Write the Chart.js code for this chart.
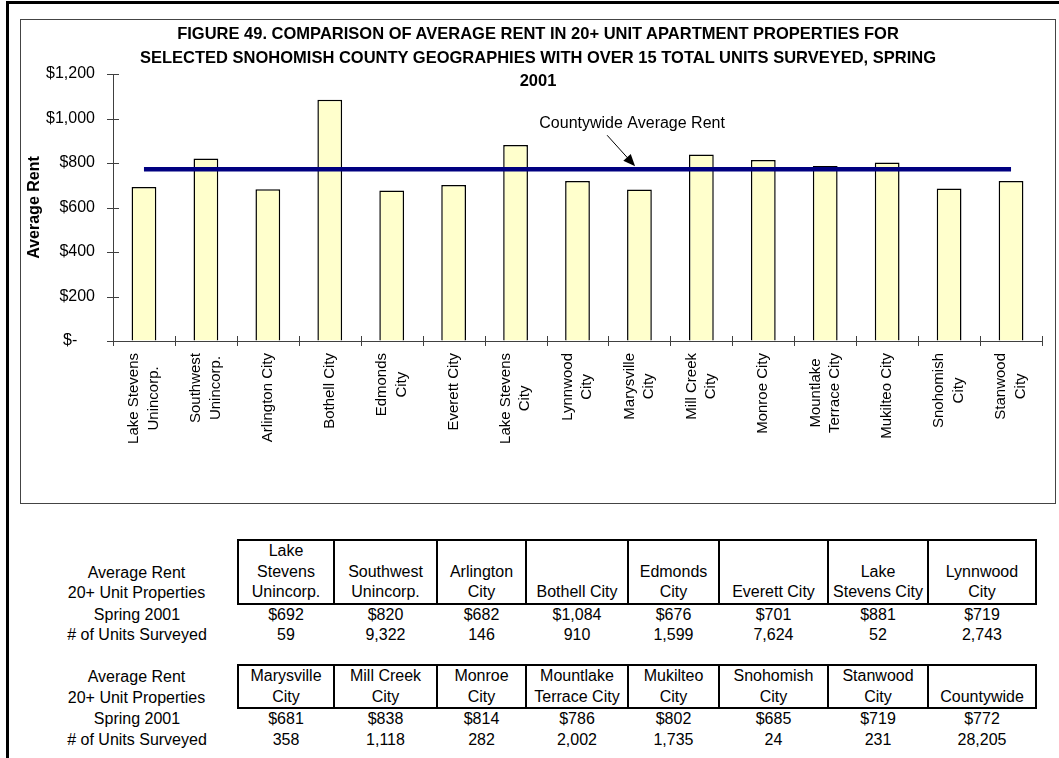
<!DOCTYPE html>
<html lang="en">
<head>
  <meta charset="UTF-8" />
  <title>Figure 49 – Average Rent, Snohomish County, Spring 2001</title>
  <script src="https://cdn.jsdelivr.net/npm/chart.js"></script>
  <style>
    body {
      margin: 0; padding: 0;
      background: #fff;
      font-family: Arial, "Liberation Sans", sans-serif;
      color: #000;
      width: 1059px; height: 758px;
      overflow: hidden;
      position: relative;
    }
    .frame {
      position: absolute;
      left: 6px; top: 1px;
      width: 1060px; height: 770px;
      border-top: 3px solid #000;
      border-left: 3px solid #000;
    }
    .chartBox {
      position: absolute;
      left: 20px; top: 19px;
      width: 1034px; height: 483px;
      border: 1px solid #444;
    }
    .title {
      position: absolute;
      left: 0; top: 2px;
      width: 1034px;
      text-align: center;
      font-weight: bold;
      font-size: 16.5px;
      line-height: 23.5px;
    }
    canvas { position: absolute; left: 0; top: 0; }
    table.data {
      position: absolute;
      left: 36px;
      border-collapse: collapse;
      table-layout: fixed;
      font-size: 16px;
      line-height: 20.5px;
    }
    table.data td {
      padding: 0;
      text-align: center;
      vertical-align: bottom;
      white-space: nowrap;
    }
    table.data tr.head td.name {
      border: 2px solid #000;
    }
  </style>
</head>
<body>
  <div class="frame"></div>
  <div class="chartBox">
    <canvas id="chartCanvas" width="1034" height="483"></canvas>
    <div class="title">
      FIGURE 49. COMPARISON OF AVERAGE RENT IN 20+ UNIT APARTMENT PROPERTIES FOR<br>
      SELECTED SNOHOMISH COUNTY GEOGRAPHIES WITH OVER 15 TOTAL UNITS SURVEYED, SPRING<br>
      2001
    </div>
  </div>
  <table class="data" id="table1" style="top:539px"></table>
  <table class="data" id="table2" style="top:664px"></table>

  <script>
    // etiquetas del eje x (dos lineas cuando el original las parte)
    const categories = [
      ["Lake Stevens", "Unincorp."], ["Southwest", "Unincorp."], "Arlington City", "Bothell City",
      ["Edmonds", "City"], "Everett City", ["Lake Stevens", "City"], ["Lynnwood", "City"],
      ["Marysville", "City"], ["Mill Creek", "City"], "Monroe City", ["Mountlake", "Terrace City"],
      "Mukilteo City", ["Snohomish", "City"], ["Stanwood", "City"]
    ];
    const rents = [692, 820, 682, 1084, 676, 701, 881, 719, 681, 838, 814, 786, 802, 685, 719];
    const unitsSurveyed = [59, 9322, 146, 910, 1599, 7624, 52, 2743, 358, 1118, 282, 2002, 1735, 24, 231];
    const countywideRent = 772;
    const countywideUnits = 28205;
    const yTicks = [0, 200, 400, 600, 800, 1000, 1200];

    // encabezados de las tablas de abajo
    const tableNames = [
      ["Lake", "Stevens", "Unincorp."], ["Southwest", "Unincorp."], ["Arlington", "City"], ["Bothell City"],
      ["Edmonds", "City"], ["Everett City"], ["Lake", "Stevens City"], ["Lynnwood", "City"],
      ["Marysville", "City"], ["Mill Creek", "City"], ["Monroe", "City"], ["Mountlake", "Terrace City"],
      ["Mukilteo", "City"], ["Snohomish", "City"], ["Stanwood", "City"], ["Countywide"]
    ];
    const rowLabels = ["Average Rent", "20+ Unit Properties", "Spring 2001", "# of Units Surveyed"];
    const colWidths = [202, 96, 103, 89, 102, 91, 109, 100, 108];

    const FONT = 'Arial, "Liberation Sans", sans-serif';

    const axisExtras = {
      id: "axisExtras",
      afterDraw(chart) {
        const ctx = chart.ctx;
        const x = chart.scales.x, y = chart.scales.y;
        ctx.save();
        // marcas que cruzan los ejes
        ctx.strokeStyle = "#404040";
        ctx.lineWidth = 1;
        ctx.beginPath();
        y.ticks.forEach((t, i) => {
          const py = Math.round(y.getPixelForTick(i)) + 0.5;
          ctx.moveTo(x.left - 6, py);
          ctx.lineTo(x.left + 6, py);
        });
        const half = (x.right - x.left) / categories.length / 2;
        for (let i = 0; i <= categories.length; i++) {
          const px = Math.round(x.getPixelForValue(i) - half) + 0.5;
          ctx.moveTo(px, y.bottom - 5);
          ctx.lineTo(px, y.bottom + 5);
        }
        ctx.stroke();

        // etiquetas verticales: bloque pegado al eje, lineas centradas entre si
        ctx.fillStyle = "#000";
        ctx.font = "15px " + FONT;
        ctx.textAlign = "center";
        ctx.textBaseline = "middle";
        categories.forEach((c, i) => {
          const lines = Array.isArray(c) ? c : [c];
          const w = Math.max(...lines.map(t => ctx.measureText(t).width));
          const cx = x.getPixelForValue(i);
          lines.forEach((txt, j) => {
            const px = cx + (j - (lines.length - 1) / 2) * 19.5;
            ctx.save();
            ctx.translate(px, y.bottom + 12 + w / 2);
            ctx.rotate(-Math.PI / 2);
            ctx.fillText(txt, 0, 0);
            ctx.restore();
          });
        });

        // flecha "Countywide Average Rent"
        const tipX = x.getPixelForValue(7.93);
        const tipY = y.getPixelForValue(countywideRent) - 3;
        const tailX = tipX - 28, tailY = tipY - 31;
        const ang = Math.atan2(tipY - tailY, tipX - tailX);
        ctx.strokeStyle = "#000";
        ctx.beginPath();
        ctx.moveTo(tailX, tailY);
        ctx.lineTo(tipX - 10 * Math.cos(ang), tipY - 10 * Math.sin(ang));
        ctx.stroke();
        ctx.beginPath();
        ctx.moveTo(tipX, tipY);
        ctx.lineTo(tipX - 12 * Math.cos(ang) + 5 * Math.sin(ang), tipY - 12 * Math.sin(ang) - 5 * Math.cos(ang));
        ctx.lineTo(tipX - 12 * Math.cos(ang) - 5 * Math.sin(ang), tipY - 12 * Math.sin(ang) + 5 * Math.cos(ang));
        ctx.closePath();
        ctx.fill();
        ctx.font = "16px " + FONT;
        ctx.textAlign = "center";
        ctx.fillText("Countywide Average Rent", tipX - 3, tipY - 43);
        ctx.restore();
      }
    };

    new Chart(document.getElementById("chartCanvas"), {
      type: "bar",
      data: {
        labels: categories,
        datasets: [
          {
            type: "line",
            data: categories.map(() => countywideRent),
            borderColor: "#000080",
            borderWidth: 4.5,
            pointRadius: 0,
            order: 0
          },
          {
            type: "bar",
            data: rents,
            backgroundColor: "#FFFFCC",
            borderColor: "#000",
            borderWidth: 1.5,
            barPercentage: 0.4,
            categoryPercentage: 1,
            order: 1
          }
        ]
      },
      options: {
        responsive: false,
        animation: false,
        layout: { padding: { top: 54, right: 13, left: 0, bottom: 0 } },
        plugins: { legend: { display: false }, tooltip: { enabled: false } },
        scales: {
          x: {
            grid: { drawOnChartArea: false, drawTicks: false },
            border: { display: true, color: "#404040" },
            ticks: { display: false },
            afterFit(s) { s.height = 162; }
          },
          y: {
            min: 0, max: 1200,
            afterBuildTicks(s) { s.ticks = yTicks.map(v => ({ value: v })); },
            grid: { drawOnChartArea: false, drawTicks: false },
            border: { display: true, color: "#404040" },
            ticks: {
              padding: 18, color: "#000", font: { size: 16, family: FONT },
              callback: v => v === 0 ? "$-    " : "$" + v.toLocaleString("en-US")
            },
            title: {
              display: true, text: "Average Rent", color: "#000",
              font: { size: 16, weight: "bold", family: FONT },
              padding: { top: 4, bottom: 0 }
            },
            afterFit(s) { s.width = 92; }
          }
        }
      },
      plugins: [axisExtras]
    });

    // tablas
    function buildTable(id, from, to, extra) {
      const names = tableNames.slice(from, to);
      const r = rents.slice(from, to).map(v => "$" + v.toLocaleString("en-US"));
      const u = unitsSurveyed.slice(from, to).map(v => v.toLocaleString("en-US"));
      if (extra) {
        names.push(tableNames[15]);
        r.push("$" + countywideRent);
        u.push(countywideUnits.toLocaleString("en-US"));
      }
      let html = "<colgroup>" + colWidths.map(w => `<col style="width:${w}px">`).join("") + "</colgroup>";
      html += `<tr class="head"><td>${rowLabels[0]}<br>${rowLabels[1]}</td>` +
        names.map(n => `<td class="name">${n.join("<br>")}</td>`).join("") + "</tr>";
      html += `<tr><td>${rowLabels[2]}</td>` + r.map(v => `<td>${v}</td>`).join("") + "</tr>";
      html += `<tr><td>${rowLabels[3]}</td>` + u.map(v => `<td>${v}</td>`).join("") + "</tr>";
      const t = document.getElementById(id);
      t.style.width = colWidths.reduce((a, b) => a + b, 0) + "px";
      t.innerHTML = html;
    }
    buildTable("table1", 0, 8, false);
    buildTable("table2", 8, 15, true);
  </script>
</body>
</html>
